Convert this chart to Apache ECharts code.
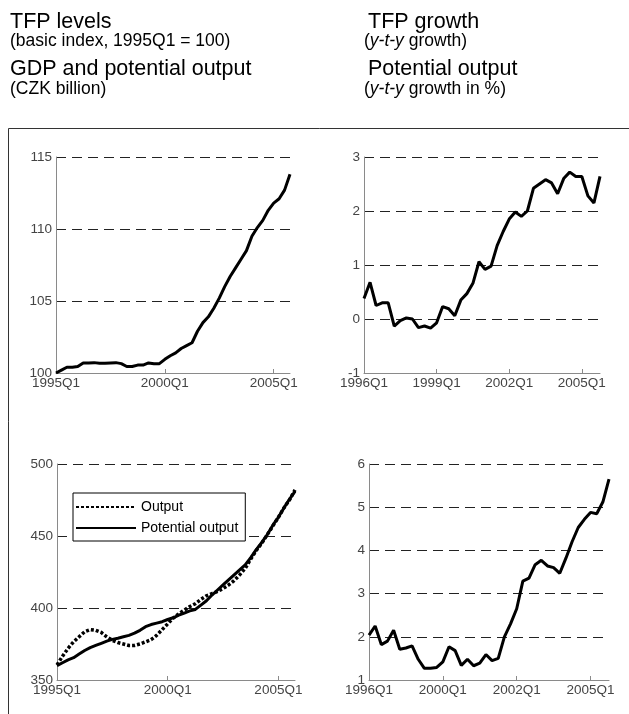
<!DOCTYPE html>
<html>
<head>
<meta charset="utf-8">
<script src="https://cdn.jsdelivr.net/npm/echarts@6/dist/echarts.min.js"></script>
<style>
html,body{margin:0;padding:0;background:#fff;}
#chart{width:629px;height:714px;}
</style>
</head>
<body>
<div id="chart"></div>
<script>
// ---- categories ----
const quarters = [
  '1995Q1','1995Q2','1995Q3','1995Q4','1996Q1','1996Q2','1996Q3','1996Q4',
  '1997Q1','1997Q2','1997Q3','1997Q4','1998Q1','1998Q2','1998Q3','1998Q4',
  '1999Q1','1999Q2','1999Q3','1999Q4','2000Q1','2000Q2','2000Q3','2000Q4',
  '2001Q1','2001Q2','2001Q3','2001Q4','2002Q1','2002Q2','2002Q3','2002Q4',
  '2003Q1','2003Q2','2003Q3','2003Q4','2004Q1','2004Q2','2004Q3','2004Q4',
  '2005Q1','2005Q2','2005Q3','2005Q4'
];
const quartersFrom1996 = quarters.slice(4);

// tick labels shown on the bottom-right panel (as printed in the original)
const potGrowthTickLabels = ['1996Q1', '2000Q1', '2002Q1', '2005Q1'];

// ---- series values ----
const tfpLevels = [
  100.0, 100.2, 100.4, 100.4, 100.45, 100.7, 100.7, 100.72, 100.68, 100.68,
  100.7, 100.72, 100.65, 100.45, 100.45, 100.55, 100.55, 100.7, 100.65, 100.65,
  100.95, 101.2, 101.4, 101.7, 101.9, 102.1, 102.9, 103.5, 103.9, 104.5,
  105.2, 106.0, 106.7, 107.3, 107.9, 108.5, 109.5, 110.1, 110.6, 111.3,
  111.8, 112.1, 112.7, 113.8
];

const tfpGrowth = [
  0.38, 0.68, 0.25, 0.30, 0.30, -0.13, -0.03, 0.02, 0.00, -0.16,
  -0.13, -0.17, -0.07, 0.23, 0.19, 0.06, 0.35, 0.47, 0.66, 1.06,
  0.92, 0.98, 1.36, 1.62, 1.85, 1.98, 1.90, 2.00, 2.42, 2.50,
  2.58, 2.52, 2.32, 2.60, 2.72, 2.64, 2.64, 2.28, 2.15, 2.64
];

const gdpOutput = [
  360.5, 366.5, 372, 376.5, 380, 383.5, 385, 384.5, 383, 380,
  377.5, 376, 375, 374, 374, 375, 376.5, 378, 381, 385,
  389, 393, 396, 398.5, 401, 403, 406, 408.5, 410, 411.5,
  413.5, 416, 419, 423, 427.5, 434, 440, 445, 451, 457,
  463, 469.5, 475, 482
];

const potentialOutput = [
  360, 362, 364, 365.5, 368, 370.5, 372.5, 374, 375.5, 377,
  378.2, 379, 380, 381, 382.5, 384.5, 387, 388.5, 389.5, 390.5,
  392, 393.2, 395, 396.5, 398, 399, 402, 405, 409, 412.5,
  416, 419.5, 423, 426.5, 430, 435, 440.5, 445.5, 451, 457.5,
  463, 469.5, 475.5, 481
];

const potentialGrowth = [
  2.04, 2.25, 1.82, 1.90, 2.15, 1.71, 1.74, 1.79, 1.48, 1.27,
  1.27, 1.29, 1.42, 1.77, 1.68, 1.34, 1.48, 1.33, 1.39, 1.59,
  1.45, 1.50, 2.00, 2.30, 2.65, 3.29, 3.36, 3.67, 3.77, 3.64,
  3.60, 3.47, 3.82, 4.20, 4.53, 4.72, 4.88, 4.85, 5.12, 5.65
];

// ---- chart ----
const FONT = '"Liberation Sans", Arial, sans-serif';
const labelColor = '#444';
const axisGray = '#8a8a8a';

function xAxis(gridIndex, cats, every, formatter) {
  const pick = function (idx) { return idx % every === 0; };
  return {
    type: 'category', gridIndex, data: cats, boundaryGap: false,
    axisLine: { show: true, onZero: false, lineStyle: { color: axisGray, width: 1 } },
    axisTick: { show: true, inside: true, length: 4, interval: pick, lineStyle: { color: axisGray } },
    axisLabel: {
      interval: pick, margin: 3, color: labelColor, fontSize: 13.5, fontFamily: FONT,
      hideOverlap: false, formatter: formatter
    },
    splitLine: { show: false }
  };
}
function yAxis(gridIndex, min, max, interval) {
  return {
    type: 'value', gridIndex, min, max, interval,
    axisLine: { show: true, lineStyle: { color: axisGray, width: 1 } },
    axisTick: { show: false },
    axisLabel: { margin: 4, color: labelColor, fontSize: 13.5, fontFamily: FONT, showMinLabel: true, showMaxLabel: true },
    splitLine: { show: true, lineStyle: { color: '#222', type: [10, 6], width: 1 } }
  };
}
function line(name, xi, data, dotted) {
  return {
    name, type: 'line', xAxisIndex: xi, yAxisIndex: xi, data,
    symbol: 'none', smooth: false, animation: false,
    lineStyle: dotted ? { color: '#000', width: 3.5, type: [3, 2], cap: 'butt' } : { color: '#000', width: 3 },
    itemStyle: { color: '#000' },
    z: dotted ? 3 : 4
  };
}

const TITLE_SIZE = 21.5;
const SUB_SIZE = 17.5;
function titleText(x, y, text, size, rich) {
  return {
    type: 'text', x, y, silent: true,
    style: { text, fontSize: size, fontFamily: FONT, fill: '#000', verticalAlign: 'top', rich: rich }
  };
}
const italicRich = { i: { fontStyle: 'italic', fontSize: SUB_SIZE, fontFamily: FONT, fill: '#000' } };

const chart = echarts.init(document.getElementById('chart'), null, { renderer: 'canvas' });
chart.setOption({
  animation: false,
  backgroundColor: '#fff',
  textStyle: { fontFamily: FONT },
  graphic: [
    titleText(10, 11, 'TFP levels', TITLE_SIZE),
    titleText(10, 32, '(basic index, 1995Q1 = 100)', SUB_SIZE),
    titleText(10, 58, 'GDP and potential output', TITLE_SIZE),
    titleText(10, 80, '(CZK billion)', SUB_SIZE),
    titleText(368, 11, 'TFP growth', TITLE_SIZE),
    titleText(364, 32, '({i|y-t-y} growth)', SUB_SIZE, italicRich),
    titleText(368, 58, 'Potential output', TITLE_SIZE),
    titleText(364, 80, '({i|y-t-y} growth in %)', SUB_SIZE, italicRich),
    { type: 'rect', silent: true, shape: { x: 8.5, y: 128.5, width: 700, height: 700 },
      style: { fill: 'none', stroke: '#333', lineWidth: 1 } }
  ],
  grid: [
    { left: 56, top: 157, width: 234, height: 216, containLabel: false },
    { left: 364, top: 157, width: 236, height: 216, containLabel: false },
    { left: 57, top: 464, width: 238, height: 216, containLabel: false },
    { left: 369, top: 464, width: 240, height: 216, containLabel: false }
  ],
  xAxis: [
    xAxis(0, quarters, 20),
    xAxis(1, quartersFrom1996, 12),
    xAxis(2, quarters, 20),
    xAxis(3, quartersFrom1996, 12, function (v, idx) { return potGrowthTickLabels[idx / 12] || ''; })
  ],
  yAxis: [
    yAxis(0, 100, 115, 5),
    yAxis(1, -1, 3, 1),
    yAxis(2, 350, 500, 50),
    yAxis(3, 1, 6, 1)
  ],
  legend: {
    data: ['Output', 'Potential output'],
    orient: 'vertical', left: 73, top: 493,
    padding: [7, 7, 6, 2], itemGap: 7, itemWidth: 60, itemHeight: 14,
    backgroundColor: '#fff', borderColor: '#000', borderWidth: 1, borderRadius: 0,
    itemStyle: { opacity: 0, color: 'transparent', borderColor: 'transparent', borderWidth: 0 },
    textStyle: { fontSize: 14, color: '#000', fontFamily: FONT },
    selectedMode: false
  },
  series: [
    line('TFP levels', 0, tfpLevels),
    line('TFP growth', 1, tfpGrowth),
    line('Output', 2, gdpOutput, true),
    line('Potential output', 2, potentialOutput),
    line('Potential output growth', 3, potentialGrowth)
  ]
});
</script>
</body>
</html>
